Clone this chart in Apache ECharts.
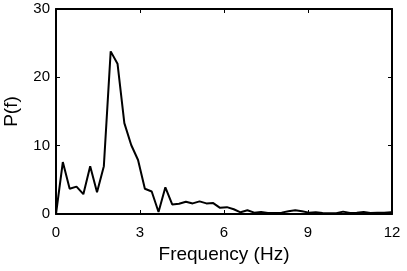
<!DOCTYPE html>
<html>
<head>
<meta charset="utf-8">
<script src="https://cdn.jsdelivr.net/npm/echarts@6/dist/echarts.min.js"></script>
<style>
  html, body { margin: 0; padding: 0; background: #fff; }
  #main { width: 407px; height: 271px; }
</style>
</head>
<body>
<div id="main"></div>
<script>
// frequency bins (Hz) and power values
var freqs = [0, 0.244, 0.488, 0.732, 0.977, 1.221, 1.465, 1.709, 1.953, 2.197,
  2.441, 2.686, 2.930, 3.174, 3.418, 3.662, 3.906, 4.150, 4.395, 4.639,
  4.883, 5.127, 5.371, 5.615, 5.859, 6.104, 6.348, 6.592, 6.836, 7.080,
  7.324, 7.568, 7.813, 8.057, 8.301, 8.545, 8.789, 9.033, 9.277, 9.521,
  9.766, 10.010, 10.254, 10.498, 10.742, 10.986, 11.230, 11.475, 11.719, 11.963, 12.207];
var power = [0, 7.6, 3.7, 4.0, 2.9, 7.0, 3.2, 7.0, 23.8, 22.0,
  13.3, 10.1, 7.9, 3.7, 3.3, 0.3, 3.9, 1.4, 1.5, 1.8,
  1.55, 1.85, 1.55, 1.6, 0.9, 1.0, 0.7, 0.25, 0.55, 0.2,
  0.3, 0.15, 0.15, 0.2, 0.4, 0.55, 0.4, 0.2, 0.25, 0.15,
  0.1, 0.1, 0.35, 0.15, 0.2, 0.3, 0.15, 0.2, 0.2, 0.25, 0.2];
var xTicks = [0, 3, 6, 9, 12];
var yTicks = [0, 10, 20, 30];

var myChart = echarts.init(document.getElementById('main'));

var lineData = freqs.map(function (f, i) { return [f, power[i]]; });
var font = 'Liberation Sans, Arial, Helvetica, sans-serif';

var baseAxis = {
  axisLine: { show: true, onZero: false, lineStyle: { color: '#000', width: 2 } },
  axisTick: { show: true, inside: true, length: 4, lineStyle: { color: '#000', width: 1 } },
  splitLine: { show: false }
};

var option = {
  animation: false,
  grid: { left: 56, right: 15, top: 9, bottom: 57, containLabel: false, outerBoundsMode: 'none' },
  xAxis: [
    Object.assign({}, baseAxis, {
      type: 'value', min: 0, max: 12, interval: 3, position: 'bottom',
      axisLabel: { color: '#000', fontSize: 15, fontFamily: font, margin: 11,
        formatter: function (v) { return xTicks.indexOf(v) >= 0 ? v : ''; } },
      name: 'Frequency (Hz)', nameLocation: 'middle', nameGap: 27,
      nameTextStyle: { color: '#000', fontSize: 19, fontFamily: font }
    }),
    Object.assign({}, baseAxis, {
      type: 'value', min: 0, max: 12, interval: 3, position: 'top',
      axisLabel: { show: false }
    })
  ],
  yAxis: [
    Object.assign({}, baseAxis, {
      type: 'value', min: 0, max: 30, interval: 10, position: 'left',
      axisLabel: { color: '#000', fontSize: 15, fontFamily: font, margin: 6,
        formatter: function (v) { return yTicks.indexOf(v) >= 0 ? v : ''; } },
      name: 'P(f)', nameLocation: 'middle', nameGap: 35,
      nameTextStyle: { color: '#000', fontSize: 19, fontFamily: font }
    }),
    Object.assign({}, baseAxis, {
      type: 'value', min: 0, max: 30, interval: 10, position: 'right',
      axisLabel: { show: false }
    })
  ],
  series: [
    {
      type: 'line',
      data: lineData,
      showSymbol: false,
      clip: true,
      lineStyle: { color: '#000', width: 2 }
    }
  ]
};

myChart.setOption(option);
</script>
</body>
</html>
